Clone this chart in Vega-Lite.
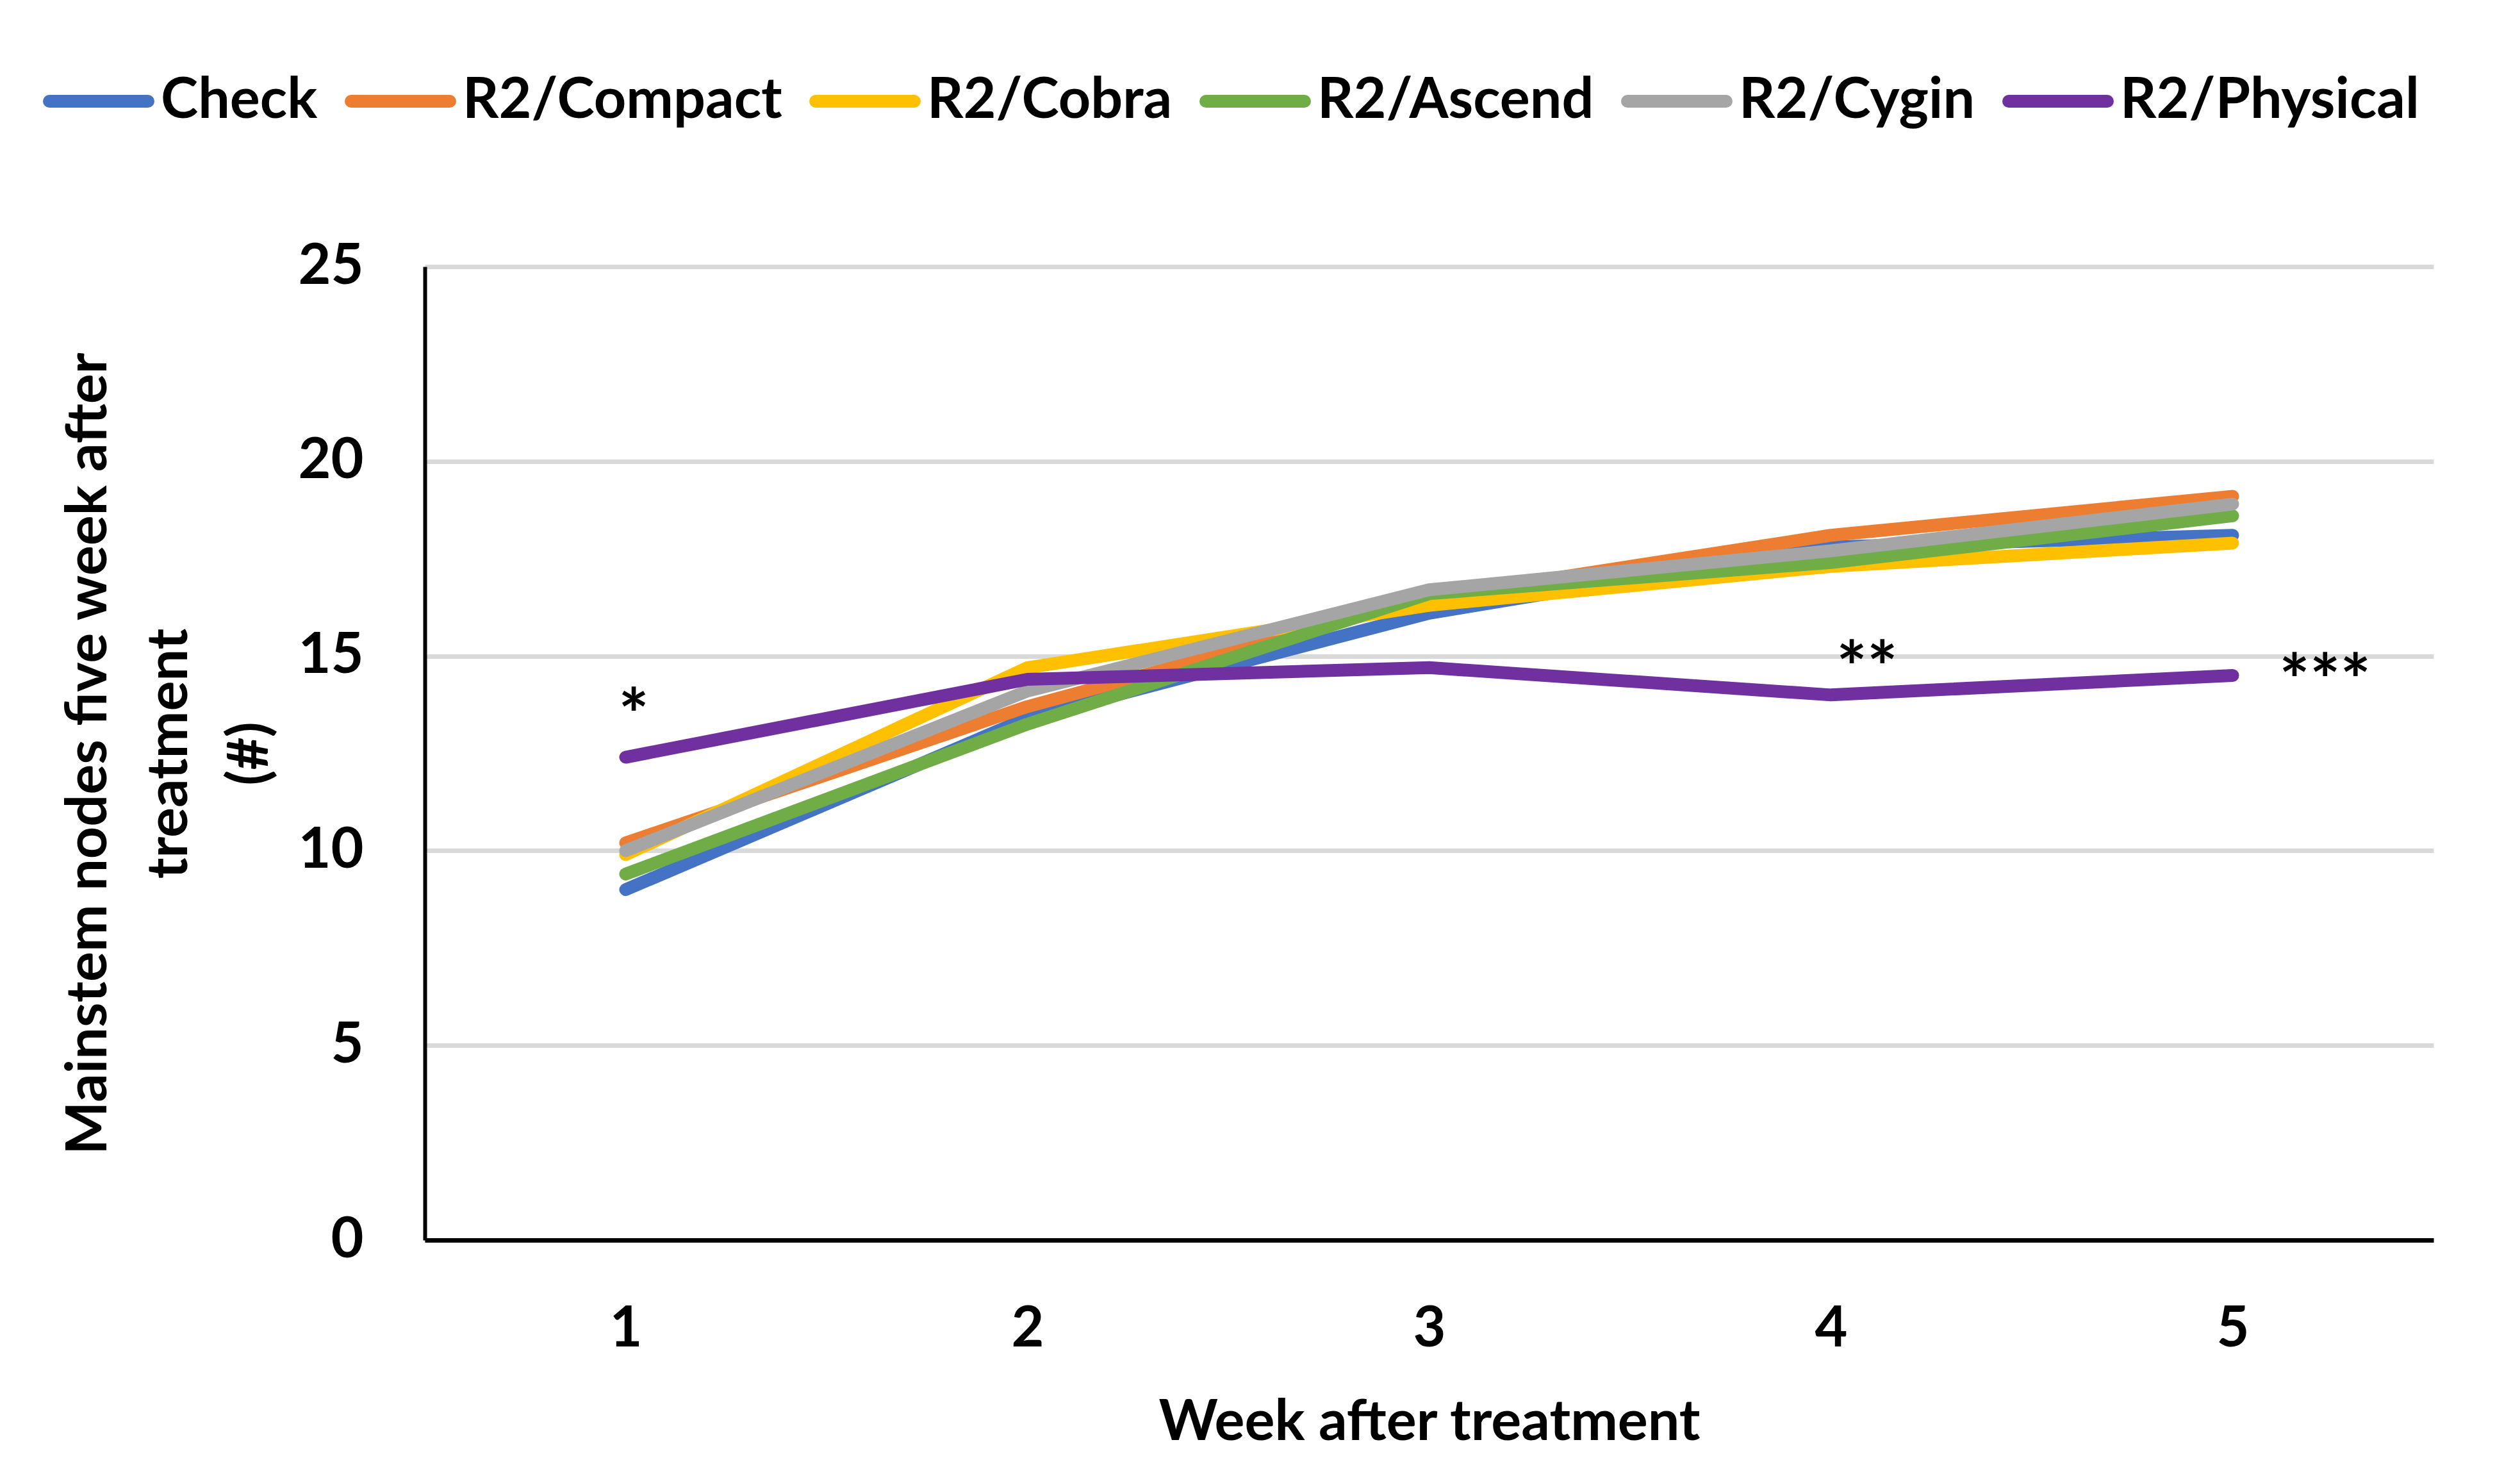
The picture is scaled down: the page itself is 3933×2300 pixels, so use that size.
{
  "$schema": "https://vega.github.io/schema/vega-lite/v6.json",
  "width": 3135,
  "height": 1519,
  "autosize": {"type": "none"},
  "padding": {"left": 663, "top": 416, "right": 135, "bottom": 365},
  "background": "white",
  "config": {"view": {"stroke": null}, "font": "Lato"},
  "datasets": {
    "series": [
      {"treatment": "Check", "week": 1, "nodes": 9.0},
      {"treatment": "Check", "week": 2, "nodes": 13.4},
      {"treatment": "Check", "week": 3, "nodes": 16.1},
      {"treatment": "Check", "week": 4, "nodes": 17.8},
      {"treatment": "Check", "week": 5, "nodes": 18.1},
      {"treatment": "R2/Compact", "week": 1, "nodes": 10.2},
      {"treatment": "R2/Compact", "week": 2, "nodes": 13.7},
      {"treatment": "R2/Compact", "week": 3, "nodes": 16.5},
      {"treatment": "R2/Compact", "week": 4, "nodes": 18.1},
      {"treatment": "R2/Compact", "week": 5, "nodes": 19.1},
      {"treatment": "R2/Cobra", "week": 1, "nodes": 9.9},
      {"treatment": "R2/Cobra", "week": 2, "nodes": 14.7},
      {"treatment": "R2/Cobra", "week": 3, "nodes": 16.3},
      {"treatment": "R2/Cobra", "week": 4, "nodes": 17.3},
      {"treatment": "R2/Cobra", "week": 5, "nodes": 17.9},
      {"treatment": "R2/Ascend", "week": 1, "nodes": 9.4},
      {"treatment": "R2/Ascend", "week": 2, "nodes": 13.25},
      {"treatment": "R2/Ascend", "week": 3, "nodes": 16.6},
      {"treatment": "R2/Ascend", "week": 4, "nodes": 17.4},
      {"treatment": "R2/Ascend", "week": 5, "nodes": 18.6},
      {"treatment": "R2/Cygin", "week": 1, "nodes": 10.0},
      {"treatment": "R2/Cygin", "week": 2, "nodes": 14.1},
      {"treatment": "R2/Cygin", "week": 3, "nodes": 16.7},
      {"treatment": "R2/Cygin", "week": 4, "nodes": 17.7},
      {"treatment": "R2/Cygin", "week": 5, "nodes": 18.9},
      {"treatment": "R2/Physical", "week": 1, "nodes": 12.4},
      {"treatment": "R2/Physical", "week": 2, "nodes": 14.4},
      {"treatment": "R2/Physical", "week": 3, "nodes": 14.7},
      {"treatment": "R2/Physical", "week": 4, "nodes": 14.0},
      {"treatment": "R2/Physical", "week": 5, "nodes": 14.5}
    ],
    "stars": [
      {"week": 1.02, "pos": 13.87, "label": "*"},
      {"week": 4.09, "pos": 15.09, "label": "**"},
      {"week": 5.23, "pos": 14.76, "label": "***"}
    ]
  },
  "layer": [
    {
      "data": {"name": "series"},
      "mark": {"type": "line", "strokeWidth": 20, "strokeCap": "round", "strokeJoin": "round"},
      "encoding": {
        "x": {
          "field": "week", "type": "quantitative",
          "scale": {"domain": [0.5, 5.5], "nice": false, "zero": false},
          "axis": {
            "values": [1, 2, 3, 4, 5],
            "format": "d",
            "grid": false,
            "ticks": false,
            "tickSize": 0,
            "domainColor": "black",
            "domainWidth": 7,
            "labelFontSize": 88,
            "labelFontWeight": "bold",
            "labelColor": "black",
            "labelBaseline": "alphabetic",
            "labelPadding": 165,
            "title": "Week after treatment",
            "titleFontSize": 88,
            "titleFontWeight": "bold",
            "titleColor": "black",
            "titleBaseline": "alphabetic",
            "titleAlign": "center",
            "titleX": 1567.5,
            "titleY": 311
          }
        },
        "y": {
          "field": "nodes", "type": "quantitative",
          "scale": {"domain": [0, 25], "nice": false},
          "axis": {
            "values": [0, 5, 10, 15, 20, 25],
            "format": "d",
            "grid": true,
            "gridColor": "#D9D9D9",
            "gridWidth": 7,
            "ticks": false,
            "tickSize": 0,
            "domainColor": "black",
            "domainWidth": 6,
            "labelFontSize": 88,
            "labelFontWeight": "bold",
            "labelColor": "black",
            "labelPadding": 96,
            "labelBaseline": "middle",
            "title": ["Mainstem nodes five week after", "treatment", "(#)"],
            "titleFontSize": 88,
            "titleFontWeight": "bold",
            "titleColor": "black",
            "titleLineHeight": 126,
            "titleAngle": -90,
            "titleAlign": "center",
            "titleBaseline": "middle",
            "titleX": -524,
            "titleY": 759.5
          }
        },
        "color": {
          "field": "treatment", "type": "nominal",
          "scale": {
            "domain": ["Check", "R2/Compact", "R2/Cobra", "R2/Ascend", "R2/Cygin", "R2/Physical"],
            "range": ["#4472C4", "#ED7D31", "#FFC000", "#70AD47", "#A5A5A5", "#7030A0"]
          },
          "legend": {
            "orient": "none",
            "legendX": -596,
            "legendY": -345,
            "direction": "horizontal",
            "columns": 6,
            "title": null,
            "symbolType": "stroke",
            "symbolSize": 23716,
            "symbolStrokeWidth": 20,
            "labelFontSize": 88,
            "labelFontWeight": "bold",
            "labelColor": "black",
            "labelOffset": 10,
            "labelLimit": 2000,
            "columnPadding": 12,
            "encode": {"symbols": {"update": {"strokeCap": {"value": "round"}}}}
          }
        }
      }
    },
    {
      "data": {"name": "stars"},
      "mark": {"type": "text", "fontSize": 112, "fontWeight": "bold", "baseline": "middle", "align": "center", "dy": 30, "color": "black"},
      "encoding": {
        "x": {"field": "week", "type": "quantitative"},
        "y": {"field": "pos", "type": "quantitative"},
        "text": {"field": "label"}
      }
    }
  ]
}
